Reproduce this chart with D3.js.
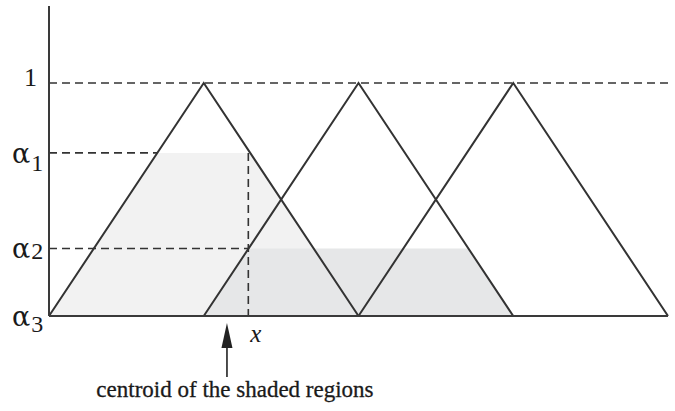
<!DOCTYPE html>
<html lang="en">
<head>
    <meta charset="UTF-8">
    <title>Centroid of the shaded regions</title>
    <style>
        html, body { margin: 0; padding: 0; background: #fff; }
        svg text { fill: #1a1a1a; }
        .dash { stroke: #333; stroke-width: 1.6; stroke-dasharray: 8 5; fill: none; }
        .tri { stroke: #333; stroke-width: 2; fill: none; stroke-linejoin: miter; }
        .frame { stroke: #3a3a3a; stroke-width: 2; fill: none; }
    </style>
</head>
<body>
    <svg width="675" height="411"></svg>

    <script src="https://d3js.org/d3.v7.min.js"></script>
    <script>

        // Membership functions: triangle peaks, half width of each triangle
        const peaks = [1, 2, 3];
        const halfWidth = 1;

        // Alpha levels shown on the vertical axis (top to bottom)
        const levelValues = [1, 0.70, 0.29, 0];
        const levelNames = ['1', 'α', 'α', 'α'];
        const levelSubs = ['', '1', '2', '3'];

        // Clipped (shaded) regions: which triangle, at what level
        const cutPeaks = [1, 2];
        const cutLevels = [0.70, 0.29];
        const cutFills = ['#f2f2f2', '#e6e7e8'];

        // Centroid and arrow position, axis extent
        const centroidX = 1.288;
        const arrowX = 1.15;
        const xDomain = [0, 4];
        const yMax = 1.33;

        const times = '"Liberation Serif", "Times New Roman", serif';
        const greek = '"DejaVu Serif", serif';

        const svg = d3.select('svg');

        const x = d3.scaleLinear().domain(xDomain).range([49, 668]);
        const y = d3.scaleLinear().domain([0, 1]).range([316, 83]);

        const line = d3.line()
            .x(function (d) { return x(d[0]); })
            .y(function (d) { return y(d[1]); });

        // Shaded regions (drawn first so the lines sit on top)
        cutPeaks.forEach(function (c, i) {
            const a = cutLevels[i];
            const pts = [
                [c - halfWidth, 0],
                [c - halfWidth * (1 - a), a],
                [c + halfWidth * (1 - a), a],
                [c + halfWidth, 0]
            ];
            svg.append('path')
                .attr('d', line(pts) + 'Z')
                .attr('fill', cutFills[i]);
        });

        // Dashed guides
        svg.append('line').attr('class', 'dash')
            .attr('x1', x(0)).attr('x2', x(xDomain[1]))
            .attr('y1', y(1)).attr('y2', y(1));

        svg.append('line').attr('class', 'dash')
            .attr('x1', x(0)).attr('x2', x(peaks[0] - halfWidth * (1 - cutLevels[0])))
            .attr('y1', y(cutLevels[0])).attr('y2', y(cutLevels[0]));

        svg.append('line').attr('class', 'dash')
            .attr('x1', x(0)).attr('x2', x(centroidX))
            .attr('y1', y(cutLevels[1])).attr('y2', y(cutLevels[1]));

        svg.append('line').attr('class', 'dash')
            .attr('x1', x(centroidX)).attr('x2', x(centroidX))
            .attr('y1', y(cutLevels[0])).attr('y2', y(0));

        // Triangles
        svg.selectAll('path.tri')
            .data(peaks)
            .enter()
            .append('path')
            .attr('class', 'tri')
            .attr('d', function (c) {
                return line([[c - halfWidth, 0], [c, 1], [c + halfWidth, 0]]);
            });

        // Axis lines
        svg.append('line').attr('class', 'frame')
            .attr('x1', x(0)).attr('x2', x(0))
            .attr('y1', y(yMax)).attr('y2', y(0));
        svg.append('line').attr('class', 'frame')
            .attr('x1', x(0)).attr('x2', x(xDomain[1]))
            .attr('y1', y(0)).attr('y2', y(0));

        // Level labels
        const subShift = [0, 8, 1, 6];
        const labelG = svg.append('g');
        levelValues.forEach(function (v, i) {
            const t = labelG.append('text')
                .attr('font-family', i === 0 ? times : greek)
                .attr('x', i === 0 ? x(0) - 12 : x(0) - 37)
                .attr('y', y(v) + (i === 0 ? 3 : 10))
                .attr('text-anchor', i === 0 ? 'end' : 'start')
                .style('font-size', i === 0 ? '26px' : '27px')
                .text(levelNames[i]);
            if (levelSubs[i]) {
                t.append('tspan')
                    .attr('font-family', times)
                    .attr('dx', 1)
                    .attr('dy', subShift[i])
                    .style('font-size', '24px')
                    .text(levelSubs[i]);
            }
        });

        // Arrow pointing at the centroid
        const ax = x(arrowX);
        svg.append('line')
            .attr('x1', ax).attr('x2', ax)
            .attr('y1', y(0) + 30).attr('y2', y(0) + 61)
            .attr('stroke', '#222').attr('stroke-width', 1.6);
        svg.append('path')
            .attr('d', 'M' + ax + ',' + (y(0) + 7) + 'L' + (ax + 5.5) + ',' + (y(0) + 32) +
                'L' + (ax - 5.5) + ',' + (y(0) + 32) + 'Z')
            .attr('fill', '#222');

        svg.append('text')
            .attr('font-family', times)
            .attr('x', x(centroidX) + 2)
            .attr('y', y(0) + 26)
            .style('font-size', '25px')
            .style('font-style', 'italic')
            .text('x');

        svg.append('text')
            .attr('font-family', times)
            .attr('x', ax + 8)
            .attr('y', y(0) + 81)
            .attr('text-anchor', 'middle')
            .attr('stroke', '#1a1a1a')
            .attr('stroke-width', 0.3)
            .style('font-size', '23px')
            .text('centroid of the shaded regions');

    </script>
</body>
</html>
